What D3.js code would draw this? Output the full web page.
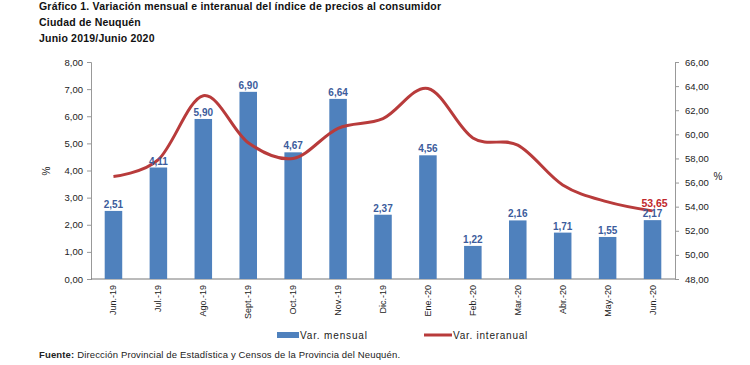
<!DOCTYPE html>
<html><head><meta charset="utf-8">
<script src="https://cdn.jsdelivr.net/npm/d3@7"></script>
<style>
body{margin:0;background:#fff;}
text{font-family:"Liberation Sans",Arial,sans-serif;}
</style></head>
<body><svg id="c" width="750" height="365"></svg>
<script>
const categories = ["Jun.-19","Jul.-19","Ago.-19","Sept.-19","Oct.-19","Nov.-19","Dic.-19","Ene.-20","Feb.-20","Mar.-20","Abr.-20","May.-20","Jun.-20"];
const mensual = [2.51,4.11,5.90,6.90,4.67,6.64,2.37,4.56,1.22,2.16,1.71,1.55,2.17];
const interanual = [56.5,57.9,63.2,59.3,58.0,60.5,61.3,63.8,59.7,59.1,55.8,54.4,53.65];
const leftTicks = [0,1,2,3,4,5,6,7,8];
const rightTicks = [48,50,52,54,56,58,60,62,64,66];
const titleLines = ["Gráfico 1. Variación mensual e interanual del índice de precios al consumidor","Ciudad de Neuquén","Junio 2019/Junio 2020"];

const svg = d3.select("#c");
const L = 91, R = 675, T = 62, B = 279;
const fmt = v => d3.format(".2f")(v).replace(".", ",");

const x = d3.scaleBand().domain(categories).range([L, R]).paddingInner(0.61).paddingOuter(0.305);
const yL = d3.scaleLinear().domain([0, 8]).range([B, T]);
const yR = d3.scaleLinear().domain([48, 66]).range([B, T]);

// title
svg.append("g").selectAll("text").data(titleLines).join("text")
  .attr("x", 39).attr("y", (d, i) => 10 + i * 16)
  .attr("font-size", 10.5).attr("letter-spacing", 0.2).attr("font-weight", "bold").attr("fill", "#111")
  .text(d => d);

// left axis
const gl = svg.append("g").attr("transform", `translate(${L},0)`)
  .call(d3.axisLeft(yL).tickValues(leftTicks).tickSize(4).tickFormat(fmt));
gl.select(".domain").attr("stroke", "#999");
gl.selectAll(".tick line").attr("stroke", "#999");
gl.selectAll(".tick text").attr("font-size", 9.5).attr("fill", "#222").attr("x", -8).attr("font-family", "Liberation Sans, Arial, sans-serif");

// right axis
const gr = svg.append("g").attr("transform", `translate(${R},0)`)
  .call(d3.axisRight(yR).tickValues(rightTicks).tickSize(4).tickFormat(fmt));
gr.select(".domain").attr("stroke", "#999");
gr.selectAll(".tick line").attr("stroke", "#999");
gr.selectAll(".tick text").attr("font-size", 9.5).attr("fill", "#222").attr("x", 10).attr("font-family", "Liberation Sans, Arial, sans-serif");

// x axis line
svg.append("line").attr("x1", L).attr("x2", R).attr("y1", B).attr("y2", B).attr("stroke", "#777");

// axis titles
svg.append("text").attr("transform", `translate(50,171) rotate(-90)`).attr("text-anchor", "middle")
  .attr("font-size", 10).attr("fill", "#222").text("%");
svg.append("text").attr("x", 718).attr("y", 180).attr("text-anchor", "middle")
  .attr("font-size", 10).attr("fill", "#222").text("%");

// bars
svg.append("g").selectAll("rect").data(mensual).join("rect")
  .attr("x", (d, i) => x(categories[i])).attr("width", x.bandwidth())
  .attr("y", d => yL(d)).attr("height", d => B - yL(d))
  .attr("fill", "#4F81BD");

// line
const cx = i => x(categories[i]) + x.bandwidth() / 2;
const line = d3.line().x((d, i) => cx(i)).y(d => yR(d)).curve(d3.curveCardinal.tension(0));
svg.append("path").datum(interanual).attr("d", line)
  .attr("fill", "none").attr("stroke", "#B83B3B").attr("stroke-width", 3);

// bar labels
svg.append("g").selectAll("text").data(mensual).join("text")
  .attr("x", (d, i) => cx(i)).attr("y", d => yL(d) - 3)
  .attr("text-anchor", "middle").attr("font-size", 10).attr("font-weight", "bold")
  .attr("fill", "#3C5C9C").text(d => fmt(d));

// last interanual label
const li = interanual.length - 1;
svg.append("text").attr("x", cx(li) + 2).attr("y", yR(interanual[li]) - 4)
  .attr("text-anchor", "middle").attr("font-size", 10.5).attr("font-weight", "bold")
  .attr("fill", "#C0282D").text(fmt(interanual[li]));

// x labels
svg.append("g").selectAll("text").data(categories).join("text")
  .attr("transform", (d, i) => `translate(${cx(i) + 3},285) rotate(-90)`)
  .attr("text-anchor", "end").attr("font-size", 9).attr("fill", "#222").text(d => d);

// legend
svg.append("rect").attr("x", 277).attr("y", 332).attr("width", 22).attr("height", 6).attr("fill", "#4F81BD");
svg.append("text").attr("x", 300).attr("y", 339).attr("font-size", 10).attr("letter-spacing", 0.85).attr("fill", "#222").text("Var. mensual");
svg.append("line").attr("x1", 424).attr("x2", 452).attr("y1", 335).attr("y2", 335).attr("stroke", "#B83B3B").attr("stroke-width", 3);
svg.append("text").attr("x", 453).attr("y", 339).attr("font-size", 10).attr("letter-spacing", 0.75).attr("fill", "#222").text("Var. interanual");

// source
const src = svg.append("text").attr("x", 39).attr("y", 358).attr("font-size", 9.5).attr("letter-spacing", 0.15).attr("fill", "#222");
src.append("tspan").attr("font-weight", "bold").text("Fuente: ");
src.append("tspan").text("Dirección Provincial de Estadística y Censos de la Provincia del Neuquén.");
</script></body></html>
